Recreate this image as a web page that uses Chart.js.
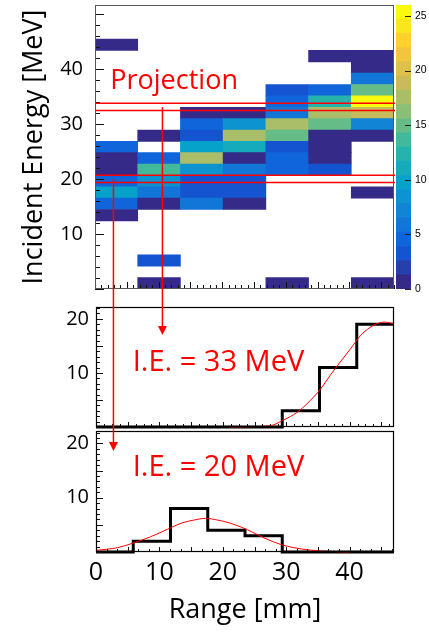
<!DOCTYPE html>
<html><head><meta charset="utf-8">
<script src="https://cdn.jsdelivr.net/npm/chart.js@4.4.1/dist/chart.umd.min.js"></script>
<style>
html,body{margin:0;padding:0;background:#fff;}
#wrap{position:relative;width:429px;height:632px;overflow:hidden;background:#fff;}
#wrap canvas{position:absolute;left:0;top:0;}
</style></head><body>
<div id="wrap">
<canvas id="cHeat" width="429" height="632"></canvas>
<canvas id="cBar" width="429" height="632"></canvas>
<canvas id="cMid" width="429" height="632"></canvas>
<canvas id="cBot" width="429" height="632"></canvas>
</div>
<script>
// ================= DATA =================
const rangeMax = 47;          // mm (x axis extent)
const energyMax = 51.7;       // MeV (y axis extent of the 2D map)
const rangeBins2D = 7;
const energyBins2D = 25;
// heatCounts[row][col]; row 0 = lowest incident-energy bin, col 0 = shortest range
const heatCounts = [
  [0,1,0,0,1,0,1],
  [0,0,0,0,0,0,0],
  [0,3,0,0,0,0,0],
  [0,0,0,0,0,0,0],
  [0,0,0,0,0,0,0],
  [0,0,0,0,0,0,0],
  [1,0,0,0,0,0,0],
  [4,1,6,1,0,0,0],
  [10,6,3,3,0,0,1],
  [4,9,3,3,0,0,0],
  [1,13,9,6,4,3,0],
  [1,4,18,1,4,1,0],
  [4,0,10,11,3,1,0],
  [0,1,3,18,15,1,1],
  [0,0,4,8,18,15,7],
  [0,0,1,1,6,18,19],
  [0,0,0,0,4,12,25],
  [0,0,0,0,3,4,15],
  [0,0,0,0,0,0,6],
  [0,0,0,0,0,0,1],
  [0,0,0,0,0,1,1],
  [1,0,0,0,0,0,0],
  [0,0,0,0,0,0,0],
  [0,0,0,0,0,0,0],
  [0,0,0,0,0,0,0]
];
const energyTickLabels = [10, 20, 30, 40];
const colorbarMax = 26;
const colorLevels = 20;
const colorbarTickLabels = [0, 5, 10, 15, 20, 25];

// projections (8 range bins over 0..47 mm)
const proj33Counts = [0, 0, 0, 0, 0, 3, 11, 19];
const proj20Counts = [0, 2, 8, 4, 3, 0, 0, 0];
const projMax33 = 22.2;
const projMax20 = 22.3;
// fitted curves
const fit33X = [21, 24, 27.5, 29.6, 31.7, 33.8, 35.4, 36.9, 38.5, 40.1, 41.7, 43.2, 44.5, 45.6, 47];
const fit33Y = [0, 0.05, 0.25, 1.3, 2.7, 4.9, 7.0, 9.5, 12.0, 14.4, 16.9, 18.4, 19.2, 19.4, 19.1];
const fit20X = [0, 3.4, 6.0, 8.6, 11.3, 13.4, 15.5, 17.3, 19.1, 21.2, 23.9, 26.5, 29.1, 31.2, 33.8, 37, 40];
const fit20Y = [0.3, 0.8, 1.7, 2.8, 4.2, 5.3, 5.9, 6.2, 5.9, 5.3, 4.1, 2.6, 1.4, 0.8, 0.35, 0.1, 0.02];
const projTickLabels = [10, 20];
const rangeTickLabels = [0, 10, 20, 30, 40];

// annotation anchors (data units)
const bandEdgesMeV = [32.5, 33.8, 19.4, 20.7];
const arrow33 = {xmm: 10.6, fromMeV: 33.1, toCount: 17.0};
const arrow20 = {xmm: 2.9, fromMeV: 20.05, toCount: 18.6};
const textProjection = {text: 'Projection', xmm: 2.4, yMeV: 36.4};
const text33 = {text: 'I.E. = 33 MeV', xmm: 5.8, y: 10.35};
const text20 = {text: 'I.E. = 20 MeV', xmm: 5.8, y: 14.0};

// ================= STYLE HELPERS =================
Chart.defaults.font.family = "'Open Sans', sans-serif";
Chart.defaults.color = '#000';
const RED = '#ff0000';
function birdColor(t) {
  const st = [0, 0.125, 0.25, 0.375, 0.5, 0.625, 0.75, 0.875, 1];
  const R = [0.2082, 0.0592, 0.0780, 0.0232, 0.1802, 0.5301, 0.8186, 0.9956, 0.9764];
  const G = [0.1664, 0.3599, 0.5041, 0.6419, 0.7178, 0.7492, 0.7328, 0.7862, 0.9832];
  const B = [0.5293, 0.8684, 0.8385, 0.7914, 0.6425, 0.4662, 0.3499, 0.1968, 0.0539];
  let k = 0; while (k < st.length - 2 && t > st[k + 1]) k++;
  const f = (t - st[k]) / (st[k + 1] - st[k]);
  const c = a => Math.round(255 * (a[k] + (a[k + 1] - a[k]) * f));
  return `rgb(${c(R)},${c(G)},${c(B)})`;
}
const rowH = energyMax / energyBins2D;
const colW = rangeMax / rangeBins2D;
const levelW = colorbarMax / colorLevels;
const levelColor = i => birdColor(i / (colorLevels - 1));
const countColor = v => levelColor(Math.min(colorLevels - 1, Math.floor(v / levelW + 1e-9)));

function framePlugin(color, width) {
  return { id: 'frame', afterDatasetsDraw(chart) {
    const {ctx, chartArea: a} = chart;
    ctx.save(); ctx.strokeStyle = color; ctx.lineWidth = width;
    ctx.strokeRect(a.left + 0.5, a.top + 0.5, a.right - a.left - 1, a.bottom - a.top - 1);
    ctx.restore();
  }};
}
// inward tick marks, positioned with the chart's own scales
function inTicksPlugin(sides, color) {
  return { id: 'inTicks', afterDatasetsDraw(chart) {
    const {ctx, chartArea: a} = chart;
    ctx.save(); ctx.strokeStyle = color; ctx.lineWidth = 1; ctx.beginPath();
    for (const sd of sides) {
      const s = chart.scales[sd.scale];
      const vals = [];
      if (sd.values) vals.push(...sd.values.map(v => [v, true]));
      else for (let i = 0; s.min + i * sd.step <= s.max + 1e-9; i++) {
        const v = s.min + i * sd.step;
        vals.push([v, Math.abs(v / sd.major - Math.round(v / sd.major)) < 1e-6]);
      }
      for (const [v, maj] of vals) {
        const p = Math.round(s.getPixelForValue(v)) + 0.5;
        const L = maj ? sd.majorLen : sd.minorLen;
        if (sd.side === 'left') { ctx.moveTo(a.left, p); ctx.lineTo(a.left + L, p); }
        if (sd.side === 'right') { ctx.moveTo(a.right, p); ctx.lineTo(a.right - L, p); }
        if (sd.side === 'bottom') { ctx.moveTo(p, a.bottom); ctx.lineTo(p, a.bottom - L); }
      }
    }
    ctx.stroke(); ctx.restore();
  }};
}
const fixTicks = arr => s => { s.ticks = arr.map(v => ({value: v})); };
const fixWidth = w => s => { s.width = w; s.paddingTop = 0; s.paddingBottom = 0; };
const common = { responsive: false, animation: false, events: [],
  plugins: { legend: {display: false}, tooltip: {enabled: false} } };

// ================= HEATMAP =================
const heatDatasets = heatCounts.map((row, r) => ({
  data: row.map((v, c) => ({x: (c + 0.5) * colW, y: [r * rowH, (r + 1) * rowH], v})).filter(p => p.v > 0),
  backgroundColor: row.filter(v => v > 0).map(countColor),
  grouped: false, categoryPercentage: 1, barPercentage: 1, borderWidth: 0
}));
const heatChart = new Chart(document.getElementById('cHeat'), {
  type: 'bar',
  data: { datasets: heatDatasets },
  options: { ...common,
    layout: { padding: {left: 0, top: 5, right: 35, bottom: 343} },
    scales: {
      x: { type: 'linear', min: 0, max: rangeMax, offset: false, display: false,
           afterBuildTicks: s => { s.ticks = []; } },
      y: { type: 'linear', min: 0, max: energyMax, position: 'left',
           afterBuildTicks: fixTicks(energyTickLabels), afterFit: fixWidth(95),
           grid: {display: false, drawTicks: false}, border: {display: false},
           ticks: {font: {size: 20}, color: '#000', padding: 12},
           title: {display: true, text: 'Incident Energy [MeV]', color: '#000',
                   font: {size: 27}, padding: {top: 18, bottom: 0}} }
    }
  },
  plugins: [inTicksPlugin([
    {side: 'left', scale: 'y', step: 2, major: 10, minorLen: 5, majorLen: 9},
    {side: 'bottom', scale: 'x', step: 1, major: 5, minorLen: 4, majorLen: 7}
  ], '#111'), framePlugin('#555', 1)]
});

// ================= COLOR BAR =================
const barDatasets = Array.from({length: colorLevels}, (_, i) => ({
  data: [[i * levelW, (i + 1) * levelW]], backgroundColor: levelColor(i),
  grouped: false, categoryPercentage: 1, barPercentage: 1, borderWidth: 0
}));
const barChart = new Chart(document.getElementById('cBar'), {
  type: 'bar',
  data: { labels: [''], datasets: barDatasets },
  options: { ...common,
    layout: { padding: {left: 396, top: 5, right: 0, bottom: 343} },
    scales: {
      x: { type: 'category', display: false },
      y: { type: 'linear', min: 0, max: colorbarMax, position: 'right',
           afterBuildTicks: fixTicks(colorbarTickLabels), afterFit: fixWidth(18),
           grid: {display: false, drawTicks: false}, border: {display: false},
           ticks: {font: {family: "'Liberation Sans', Arial, sans-serif", size: 10.5}, color: '#000', padding: 4} }
    }
  },
  plugins: [inTicksPlugin([{side: 'right', scale: 'y', values: colorbarTickLabels, majorLen: 6, minorLen: 6}], '#222')]
});

// ================= PROJECTIONS =================
function histPoints(counts) {
  const w = rangeMax / counts.length;
  const pts = counts.map((v, i) => ({x: i * w, y: v}));
  pts.push({x: rangeMax, y: counts[counts.length - 1]});
  return pts;
}
function projConfig(counts, fx, fy, ymax, top, bottomPad, withXAxis, extraPlugins, tickStep) {
  return {
    type: 'line',
    data: { datasets: [
      { data: fx.map((x, i) => ({x, y: fy[i]})), borderColor: RED, borderWidth: 1, pointRadius: 0,
        cubicInterpolationMode: 'monotone', fill: false, order: 0, clip: false },
      { data: histPoints(counts), stepped: 'before', borderColor: '#000', borderWidth: 3, pointRadius: 0,
        fill: false, order: 1, borderJoinStyle: 'miter', clip: false }
    ]},
    options: { ...common,
      layout: { padding: {left: 0, top: top, right: 35, bottom: bottomPad} },
      scales: {
        x: withXAxis ? { type: 'linear', min: 0, max: rangeMax, position: 'bottom',
             afterBuildTicks: fixTicks(rangeTickLabels),
             afterFit: s => { s.height = 80; s.paddingLeft = 0; s.paddingRight = 0; },
             grid: {display: false, drawTicks: false}, border: {display: false},
             ticks: {font: {size: 25}, color: '#000', padding: 6, maxRotation: 0, autoSkip: false},
             title: {display: true, text: 'Range [mm]', color: '#000', font: {size: 27}, padding: {top: 0, bottom: 5}} }
          : { type: 'linear', min: 0, max: rangeMax, display: false },
        y: { type: 'linear', min: 0, max: ymax, position: 'left',
             afterBuildTicks: fixTicks(projTickLabels), afterFit: fixWidth(96),
             grid: {display: false, drawTicks: false}, border: {display: false},
             ticks: {font: {size: 20}, color: '#000', padding: 7} }
      }
    },
    plugins: [inTicksPlugin([
      {side: 'left', scale: 'y', step: 1, major: 5, minorLen: 4, majorLen: 7},
      {side: 'bottom', scale: 'x', step: tickStep, major: 5, minorLen: 3, majorLen: 5}
    ], '#111'), framePlugin('#000', 1.2), ...extraPlugins]
  };
}
const midChart = new Chart(document.getElementById('cMid'),
  projConfig(proj33Counts, fit33X, fit33Y, projMax33, 307, 205, false, [], 1.25));

function arrowDown(ctx, x, y0, y1) {
  ctx.beginPath(); ctx.moveTo(x, y0); ctx.lineTo(x, y1 - 8); ctx.stroke();
  ctx.beginPath(); ctx.moveTo(x - 4.5, y1 - 9); ctx.lineTo(x + 4.5, y1 - 9); ctx.lineTo(x, y1); ctx.closePath(); ctx.fill();
}
const annotPlugin = { id: 'annot', afterDraw(chart) {
  const ctx = chart.ctx;
  const hx = heatChart.scales.x, hy = heatChart.scales.y;
  const mx = midChart.scales.x, my = midChart.scales.y;
  const bx = chart.scales.x, by = chart.scales.y;
  ctx.save();
  ctx.strokeStyle = RED; ctx.fillStyle = RED; ctx.lineWidth = 1.5;
  ctx.beginPath();
  for (const e of bandEdgesMeV) {
    const y = hy.getPixelForValue(e);
    ctx.moveTo(hx.getPixelForValue(0), y); ctx.lineTo(hx.getPixelForValue(rangeMax) + 1, y);
  }
  ctx.stroke();
  arrowDown(ctx, hx.getPixelForValue(arrow33.xmm), hy.getPixelForValue(arrow33.fromMeV), my.getPixelForValue(arrow33.toCount));
  arrowDown(ctx, hx.getPixelForValue(arrow20.xmm), hy.getPixelForValue(arrow20.fromMeV), by.getPixelForValue(arrow20.toCount));
  ctx.textBaseline = 'alphabetic'; ctx.textAlign = 'left';
  ctx.font = "27px 'Open Sans', sans-serif";
  ctx.fillText(textProjection.text, hx.getPixelForValue(textProjection.xmm), hy.getPixelForValue(textProjection.yMeV));
  ctx.font = "29px 'Open Sans', sans-serif";
  ctx.fillText(text33.text, mx.getPixelForValue(text33.xmm), my.getPixelForValue(text33.y));
  ctx.fillText(text20.text, bx.getPixelForValue(text20.xmm), by.getPixelForValue(text20.y));
  ctx.restore();
}};
const botChart = new Chart(document.getElementById('cBot'),
  projConfig(proj20Counts, fit20X, fit20Y, projMax20, 431, 0, true, [annotPlugin], 5 / 3));
</script>
</body></html>
